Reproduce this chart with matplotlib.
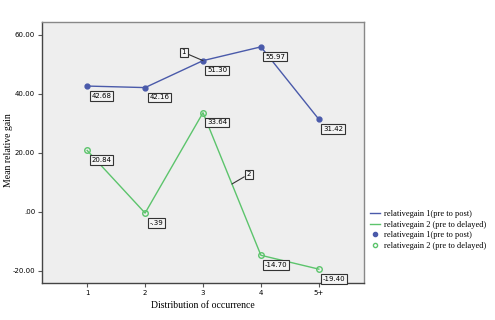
import matplotlib
matplotlib.use("Agg")
import matplotlib.pyplot as plt
from matplotlib.lines import Line2D

categories = ["1", "2", "3", "4", "5+"]
gain1 = [42.68, 42.16, 51.30, 55.97, 31.42]
gain2 = [20.84, -0.39, 33.64, -14.70, -19.40]
labels1 = ["42.68", "42.16", "51.30", "55.97", "31.42"]
labels2 = ["20.84", "-.39", "33.64", "-14.70", "-19.40"]
yticks = [-20, 0, 20, 40, 60]
yticklabels = ["-20.00", ".00", "20.00", "40.00", "60.00"]
legend_labels = ["relativegain 1(pre to post)", "relativegain 2 (pre to delayed)",
                 "relativegain 1(pre to post)", "relativegain 2 (pre to delayed)"]

blue = "#4a5aaa"
green = "#5cc46c"

plt.rcParams['font.family'] = ['Liberation Serif', 'DejaVu Serif']

fig = plt.figure(figsize=(4.95, 3.2), dpi=100)
ax = fig.add_axes([42/495, 1 - 283/320, (364-42)/495, (283-22)/320])
ax.set_facecolor("#eeeeee")

x = list(range(1, len(categories) + 1))
ax.plot(x, gain1, color=blue, lw=1.0, marker='o', ms=3.5, mfc=blue, mec=blue)
ax.plot(x, gain2, color=green, lw=1.0, marker='o', ms=4, mfc='none', mec=green)

ax.set_xlim(0.22, 5.78)
ax.set_ylim(-24.1, 64.4)
ax.set_xticks(x)
ax.set_xticklabels(categories, fontsize=5, family=['DejaVu Sans'])
ax.set_yticks(yticks)
ax.set_yticklabels(yticklabels, fontsize=5, family=['DejaVu Sans'])
ax.tick_params(length=3, width=0.8, color="#555555", pad=2)
for s in ax.spines.values():
    s.set_color("#888888")
    s.set_linewidth(1.0)
ax.spines['left'].set_color("#444444")
ax.spines['bottom'].set_color("#444444")

fig.text(203/495, 1 - 306/320, "Distribution of occurrence", fontsize=7,
         ha='center', va='center')
fig.text(9/495, 1 - 150/320, "Mean relative gain", fontsize=7,
         ha='center', va='center', rotation=90)

box = dict(boxstyle="square,pad=0.25", fc="#f4f4f4", ec="#333333", lw=0.8)
for xi, yi, lab in zip(x, gain1, labels1):
    ax.annotate(lab, (xi, yi), xytext=(3, -7), textcoords="offset points",
                fontsize=5, family=['DejaVu Sans'], va='center', ha='left', bbox=box)
for xi, yi, lab in zip(x, gain2, labels2):
    ax.annotate(lab, (xi, yi), xytext=(3, -7), textcoords="offset points",
                fontsize=5, family=['DejaVu Sans'], va='center', ha='left', bbox=box)

# series identifiers
ax.annotate("1", (x[2], gain1[2]), xytext=(-14, 6), textcoords="offset points",
            fontsize=5, family=['DejaVu Sans'], ha='center', va='center', bbox=box,
            arrowprops=dict(arrowstyle='-', color='#333333', lw=0.8, shrinkA=0, shrinkB=0))
xm = 3.5
ym = (gain2[2] + gain2[3]) / 2
ax.annotate("2", (xm, ym), xytext=(12, 7), textcoords="offset points",
            fontsize=5, family=['DejaVu Sans'], ha='center', va='center', bbox=box,
            arrowprops=dict(arrowstyle='-', color='#333333', lw=0.8, shrinkA=0, shrinkB=0))

handles = [Line2D([], [], color=blue, lw=1.0),
           Line2D([], [], color=green, lw=1.0),
           Line2D([], [], color=blue, lw=0, marker='o', ms=3, mfc=blue, mec=blue),
           Line2D([], [], color=green, lw=0, marker='o', ms=3, mfc='none', mec=green)]
fig.legend(handles, legend_labels, loc='center left', bbox_to_anchor=(366/495, 1 - 230/320),
           frameon=False, fontsize=6, handlelength=1.2, handletextpad=0.4,
           labelspacing=0.3, borderpad=0)

fig.savefig("out.png", dpi=100)
